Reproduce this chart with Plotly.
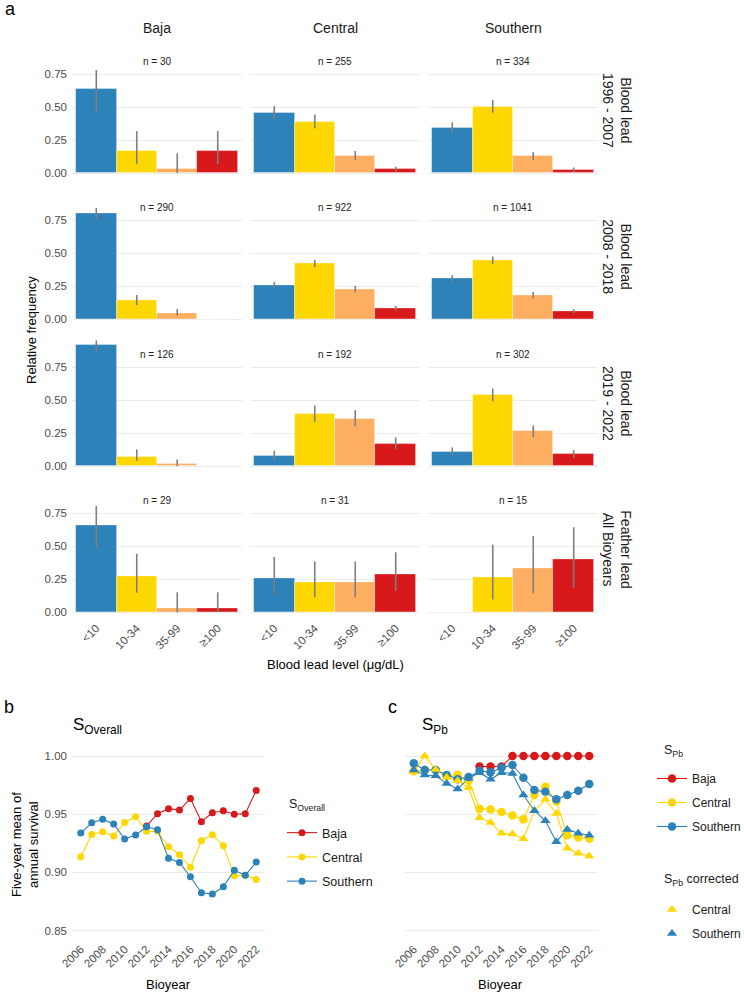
import plotly.graph_objects as go

# ---------------- data: panel a ----------------
categories = ["<10", "10-34", "35-99", "≥100"]
regions = ["Baja", "Central", "Southern"]
periods = ["Blood lead<br>1996 - 2007", "Blood lead<br>2008 - 2018",
           "Blood lead<br>2019 - 2022", "Feather lead<br>All Bioyears"]

# relative frequency, by region (Baja, Central, Southern)
freq_1996_2007 = [[0.633, 0.167, 0.033, 0.167], [0.455, 0.388, 0.129, 0.027], [0.341, 0.503, 0.132, 0.024]]
lo_1996_2007 = [[0.464, 0.068, 0.0, 0.068], [0.409, 0.338, 0.096, 0.010], [0.300, 0.457, 0.098, 0.010]]
hi_1996_2007 = [[0.780, 0.318, 0.149, 0.318], [0.507, 0.442, 0.167, 0.048], [0.384, 0.553, 0.159, 0.042]]
n_1996_2007 = [30, 255, 334]

freq_2008_2018 = [[0.806, 0.145, 0.048, 0.0], [0.258, 0.423, 0.230, 0.083], [0.309, 0.445, 0.182, 0.061]]
lo_2008_2018 = [[0.760, 0.109, 0.027, 0.0], [0.235, 0.395, 0.205, 0.066], [0.283, 0.420, 0.160, 0.046]]
hi_2008_2018 = [[0.843, 0.185, 0.078, 0.0], [0.283, 0.450, 0.255, 0.101], [0.334, 0.476, 0.207, 0.076]]
n_2008_2018 = [290, 922, 1041]

freq_2019_2022 = [[0.914, 0.070, 0.016, 0.0], [0.078, 0.395, 0.360, 0.166], [0.108, 0.540, 0.262, 0.088]]
lo_2019_2022 = [[0.863, 0.040, 0.0, 0.0], [0.045, 0.335, 0.302, 0.126], [0.081, 0.491, 0.219, 0.063]]
hi_2019_2022 = [[0.951, 0.126, 0.050, 0.0], [0.116, 0.458, 0.423, 0.217], [0.141, 0.587, 0.307, 0.121]]
n_2019_2022 = [126, 192, 302]

freq_feather = [[0.656, 0.275, 0.034, 0.034], [0.258, 0.226, 0.226, 0.290], [0.0, 0.267, 0.333, 0.400]]
lo_feather = [[0.489, 0.148, 0.0, 0.0], [0.139, 0.114, 0.114, 0.164], [0.0, 0.098, 0.144, 0.189]]
hi_feather = [[0.805, 0.444, 0.152, 0.152], [0.419, 0.386, 0.386, 0.455], [0.0, 0.512, 0.578, 0.644]]
n_feather = [29, 31, 15]

# ---------------- data: panels b and c ----------------
years = [2006, 2007, 2008, 2009, 2010, 2011, 2012, 2013, 2014, 2015, 2016, 2017, 2018, 2019, 2020, 2021, 2022]
s_overall_baja = [None, None, None, None, None, None, 0.940, 0.9505, 0.9548, 0.9536, 0.9636, 0.9436, 0.9513, 0.953, 0.950, 0.9505, 0.9705]
s_overall_central = [0.9135, 0.9327, 0.935, 0.9313, 0.943, 0.9479, 0.9353, 0.9353, 0.9221, 0.9152, 0.9044, 0.9273, 0.9324, 0.923, 0.8972, 0.8975, 0.894]
s_overall_southern = [0.9338, 0.9427, 0.9456, 0.9416, 0.9287, 0.9321, 0.9393, 0.9367, 0.9121, 0.9086, 0.8963, 0.8826, 0.8814, 0.8877, 0.9018, 0.8975, 0.9089]

s_pb_baja = [None, None, None, None, None, None, 0.991, 0.991, 0.991, 1.0, 1.0, 1.0, 1.0, 1.0, 1.0, 1.0, 1.0]
s_pb_central = [0.987, 0.988, 0.988, 0.983, 0.984, 0.979, 0.9548, 0.954, 0.952, 0.949, 0.9456, 0.9665, 0.9736, 0.961, 0.932, 0.930, 0.929]
s_pb_southern = [0.9937, 0.988, 0.988, 0.9837, 0.980, 0.982, 0.9874, 0.986, 0.990, 0.9923, 0.9814, 0.9708, 0.9693, 0.9628, 0.9665, 0.9702, 0.976]
s_pb_corr_central = [0.9865, 1.0, 0.9885, 0.9817, 0.9788, 0.9728, 0.947, 0.943, 0.9336, 0.933, 0.929, 0.953, 0.9628, 0.9507, 0.9207, 0.9164, 0.9141]
s_pb_corr_southern = [0.988, 0.9837, 0.983, 0.9765, 0.9716, 0.981, 0.9857, 0.980, 0.9857, 0.985, 0.9665, 0.953, 0.9444, 0.9264, 0.937, 0.9336, 0.932]

year_ticks = [2006, 2008, 2010, 2012, 2014, 2016, 2018, 2020, 2022]
survival_ticks = [0.85, 0.90, 0.95, 1.00]
freq_ticks = [0.0, 0.25, 0.50, 0.75]

# ---------------- styling ----------------
BLUE = "#2C82B9"
YELLOW = "#FFD700"
ORANGE = "#FDAE61"
RED = "#D7191C"
bar_colors = [BLUE, YELLOW, ORANGE, RED]
FONT = "Liberation Sans, Arial, sans-serif"
GRID = "#EBEBEB"
TICKC = "#4D4D4D"

W, H = 744, 992


def xd(a, b):
    return [a / W, b / W]


def yd(top, bottom):
    return [1 - bottom / H, 1 - top / H]


fig = go.Figure()
layout = dict(
    width=W, height=H, margin=dict(l=0, r=0, t=0, b=0, autoexpand=False),
    paper_bgcolor="white", plot_bgcolor="white",
    font=dict(family=FONT, size=12, color="black"),
    bargap=0, showlegend=True,
)
annotations = []

col_px = [(72, 242), (250, 420), (428, 598)]
row_px = [(41, 179), (187.3, 325.3), (334, 472), (480.3, 618.3)]

rows = [
    (freq_1996_2007, lo_1996_2007, hi_1996_2007, n_1996_2007),
    (freq_2008_2018, lo_2008_2018, hi_2008_2018, n_2008_2018),
    (freq_2019_2022, lo_2019_2022, hi_2019_2022, n_2019_2022),
    (freq_feather, lo_feather, hi_feather, n_feather),
]

for r, (fr, lo, hi, nn) in enumerate(rows):
    for c in range(3):
        k = r * 3 + c + 1
        xa = "x" if k == 1 else f"x{k}"
        ya = "y" if k == 1 else f"y{k}"
        f = fr[c]
        fig.add_trace(go.Bar(
            x=categories, y=f, width=1.0,
            marker=dict(color=bar_colors, line=dict(color="rgba(255,255,255,0.45)", width=0.8)),
            error_y=dict(type="data", symmetric=False,
                         array=[h - v for h, v in zip(hi[c], f)],
                         arrayminus=[v - l for v, l in zip(f, lo[c])],
                         color="#7F7F7F", thickness=1.6, width=0),
            xaxis=xa, yaxis=ya, showlegend=False, hoverinfo="skip",
        ))
        kx = "xaxis" if k == 1 else f"xaxis{k}"
        ky = "yaxis" if k == 1 else f"yaxis{k}"
        layout[kx] = dict(
            domain=xd(*col_px[c]), anchor=ya, type="category",
            categoryorder="array", categoryarray=categories,
            range=[-0.6, 3.6], showgrid=False, zeroline=False, showline=False,
            ticks="", showticklabels=(r == 3), tickangle=-45,
            tickfont=dict(size=11.5, color=TICKC, family=FONT),
        )
        layout[ky] = dict(
            domain=yd(*row_px[r]), anchor=xa, range=[-0.045, 1.0],
            tickvals=freq_ticks, ticktext=["0.00", "0.25", "0.50", "0.75"],
            showgrid=True, gridcolor=GRID, gridwidth=1.1, zeroline=False,
            showline=False, ticks="", showticklabels=(c == 0), ticklabelstandoff=4,
            tickfont=dict(size=11.5, color=TICKC, family=FONT),
        )
        annotations.append(dict(
            text=f"n = {nn[c]}", x=1.5, y=0.845, xref=xa, yref=ya,
            showarrow=False, font=dict(size=10, color="#222222"),
            xanchor="center", yanchor="middle",
        ))

# column strips
for c, name in enumerate(regions):
    annotations.append(dict(
        text=name, x=(col_px[c][0] + col_px[c][1]) / 2 / W, y=1 - 28 / H,
        xref="paper", yref="paper", showarrow=False,
        font=dict(size=14, color="#1A1A1A"), xanchor="center", yanchor="middle"))
# row strips
for r, name in enumerate(periods):
    annotations.append(dict(
        text=name, x=617 / W, y=1 - (row_px[r][0] + row_px[r][1]) / 2 / H,
        xref="paper", yref="paper", showarrow=False, textangle=90,
        font=dict(size=14, color="#1A1A1A"), xanchor="center", yanchor="middle"))

annotations += [
    dict(text="Relative frequency", x=31 / W, y=1 - 330 / H, xref="paper", yref="paper",
         showarrow=False, textangle=-90, font=dict(size=13), xanchor="center", yanchor="middle"),
    dict(text="Blood lead level (μg/dL)", x=335 / W, y=1 - 664 / H, xref="paper", yref="paper",
         showarrow=False, font=dict(size=13), xanchor="center", yanchor="middle"),
    dict(text="a", x=3 / W, y=1 - 9 / H, xref="paper", yref="paper", showarrow=False,
         font=dict(size=18), xanchor="left", yanchor="middle"),
    dict(text="b", x=2 / W, y=1 - 707 / H, xref="paper", yref="paper", showarrow=False,
         font=dict(size=18), xanchor="left", yanchor="middle"),
    dict(text="c", x=386 / W, y=1 - 707 / H, xref="paper", yref="paper", showarrow=False,
         font=dict(size=18), xanchor="left", yanchor="middle"),
    dict(text="S<sub>Overall</sub>", x=71 / W, y=1 - 726 / H, xref="paper", yref="paper",
         showarrow=False, font=dict(size=17), xanchor="left", yanchor="middle"),
    dict(text="S<sub>Pb</sub>", x=420 / W, y=1 - 726 / H, xref="paper", yref="paper",
         showarrow=False, font=dict(size=17), xanchor="left", yanchor="middle"),
    dict(text="Five-year mean of<br>annual survival", x=25 / W, y=1 - 845 / H, xref="paper",
         yref="paper", showarrow=False, textangle=-90, font=dict(size=13),
         xanchor="center", yanchor="middle"),
    dict(text="Bioyear", x=168 / W, y=1 - 984 / H, xref="paper", yref="paper",
         showarrow=False, font=dict(size=13), xanchor="center", yanchor="middle"),
    dict(text="Bioyear", x=501 / W, y=1 - 984 / H, xref="paper", yref="paper",
         showarrow=False, font=dict(size=13), xanchor="center", yanchor="middle"),
    # legend titles
    dict(text="S<sub>Overall</sub>", x=287 / W, y=1 - 805 / H, xref="paper", yref="paper",
         showarrow=False, font=dict(size=12.5, color="#1A1A1A"), xanchor="left", yanchor="middle"),
    dict(text="S<sub>Pb</sub>", x=662 / W, y=1 - 751 / H, xref="paper", yref="paper",
         showarrow=False, font=dict(size=12.5, color="#1A1A1A"), xanchor="left", yanchor="middle"),
    dict(text="S<sub>Pb</sub> corrected", x=662 / W, y=1 - 880 / H, xref="paper", yref="paper",
         showarrow=False, font=dict(size=12.5, color="#1A1A1A"), xanchor="left", yanchor="middle"),
]

# ---------------- panel b ----------------
b_series = [("Baja", s_overall_baja, RED), ("Central", s_overall_central, YELLOW),
            ("Southern", s_overall_southern, BLUE)]
for name, vals, col in b_series:
    fig.add_trace(go.Scatter(
        x=years, y=vals, mode="lines+markers", name=name,
        line=dict(color=col, width=1.1), marker=dict(color=col, size=7),
        xaxis="x13", yaxis="y13", legend="legend", legendgroup="b" + name,
        connectgaps=False, hoverinfo="skip"))

# ---------------- panel c ----------------
c_series = [("Baja", s_pb_baja, RED), ("Central", s_pb_central, YELLOW),
            ("Southern", s_pb_southern, BLUE)]
corr_series = [("Central", s_pb_corr_central, YELLOW), ("Southern", s_pb_corr_southern, BLUE)]
for name, vals, col in corr_series:
    fig.add_trace(go.Scatter(
        x=years, y=vals, mode="lines", line=dict(color=col, width=1.1),
        xaxis="x14", yaxis="y14", showlegend=False, hoverinfo="skip"))
for name, vals, col in c_series:
    fig.add_trace(go.Scatter(
        x=years, y=vals, mode="lines+markers", name=name,
        line=dict(color=col, width=1.1), marker=dict(color=col, size=8.5),
        xaxis="x14", yaxis="y14", legend="legend2", legendgroup="c" + name,
        hoverinfo="skip"))
for name, vals, col in corr_series:
    fig.add_trace(go.Scatter(
        x=years, y=vals, mode="markers", name=name,
        marker=dict(color=col, size=9, symbol="triangle-up"),
        xaxis="x14", yaxis="y14", legend="legend3", legendgroup="cc" + name,
        hoverinfo="skip"))

line_y = yd(747.3, 939.4)
for key, dom, show_y in [("13", xd(72, 265), True), ("14", xd(405, 598), False)]:
    layout["xaxis" + key] = dict(
        domain=dom, anchor="y" + key, range=[2005.2, 2022.8], tickvals=year_ticks,
        tickangle=-45, showgrid=False, zeroline=False, showline=False, ticks="",
        tickfont=dict(size=11.5, color=TICKC))
    layout["yaxis" + key] = dict(
        domain=line_y, anchor="x" + key, range=[0.8425, 1.0075], tickvals=survival_ticks,
        ticktext=["0.85", "0.90", "0.95", "1.00"], showgrid=True, gridcolor=GRID, gridwidth=1.1,
        zeroline=False, showline=False, ticks="", showticklabels=show_y, ticklabelstandoff=4,
        tickfont=dict(size=11.5, color=TICKC))

leg_common = dict(bgcolor="rgba(0,0,0,0)", font=dict(size=12, color="#1A1A1A"),
                  tracegroupgap=5, itemwidth=30, xanchor="left", yanchor="top")
layout["legend"] = dict(leg_common, x=282 / W, y=1 - 818 / H, font=dict(size=12.5, color="#1A1A1A"))
layout["legend2"] = dict(leg_common, x=652 / W, y=1 - 764 / H)
layout["legend3"] = dict(leg_common, x=652 / W, y=1 - 895 / H)

layout["annotations"] = annotations
fig.update_layout(**layout)
fig.write_html("out.html")
